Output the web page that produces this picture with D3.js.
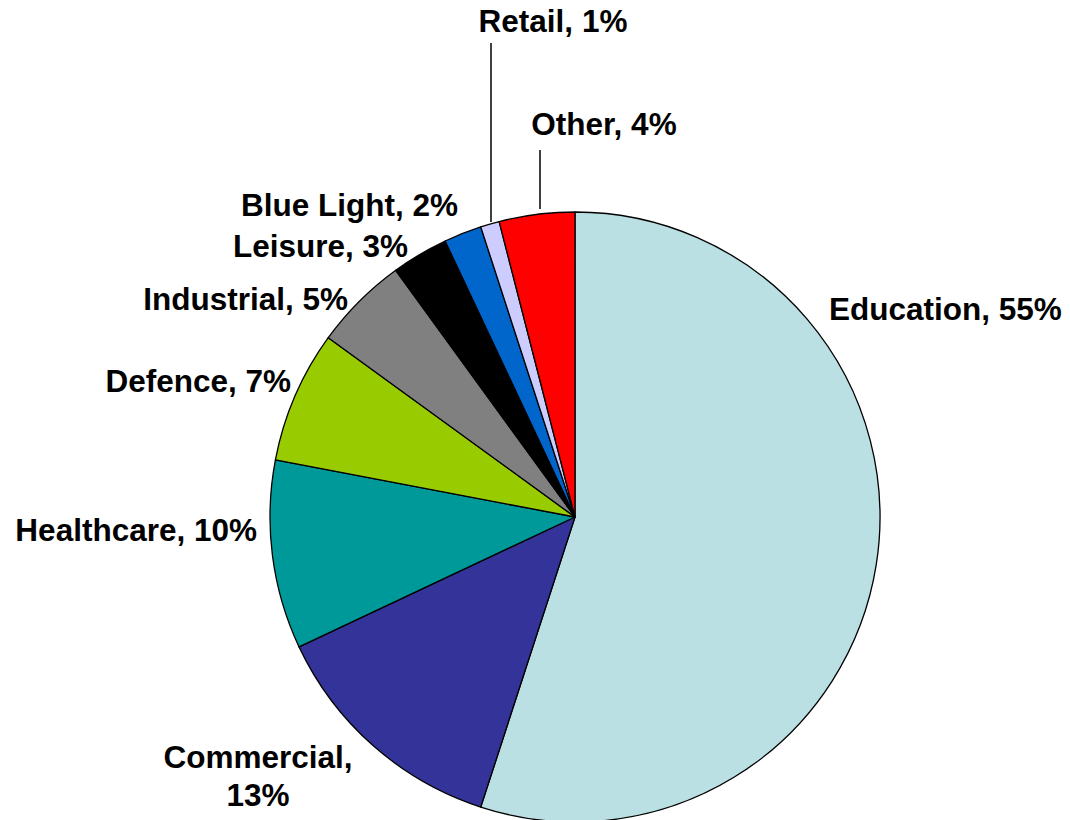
<!DOCTYPE html>
<html>
<head>
<meta charset="utf-8">
<script src="https://cdn.jsdelivr.net/npm/d3@7"></script>
<style>
  html, body { margin: 0; padding: 0; background: #fff; }
  svg text { font-family: "Liberation Sans", Arial, sans-serif; font-weight: bold; font-size: 31.5px; fill: #000; }
</style>
</head>
<body>
<svg id="chart" width="1070" height="820"></svg>
<script>
// Share of projects by sector, clockwise from 12 o'clock
const categories = ["Education", "Commercial", "Healthcare", "Defence", "Industrial", "Leisure", "Blue Light", "Retail", "Other"];
const shares = [55, 13, 10, 7, 5, 3, 2, 1, 4];
const colors = ["#BBE0E3", "#333399", "#009999", "#99CC00", "#808080", "#000000", "#0066CC", "#CCCCFF", "#FF0000"];

// Label placement: anchor point and text alignment for each sector label
const labelLayout = {
  "Education":  { x: 829, y: 320, anchor: "start" },
  "Commercial": { x: 258, y: 768, anchor: "middle", wrap: true },
  "Healthcare": { x: 257, y: 541, anchor: "end" },
  "Defence":    { x: 291, y: 392, anchor: "end" },
  "Industrial": { x: 348, y: 310, anchor: "end" },
  "Leisure":    { x: 408, y: 257, anchor: "end" },
  "Blue Light": { x: 458, y: 216, anchor: "end" },
  "Retail":     { x: 553, y: 32,  anchor: "middle", leader: { x: 491, y1: 43, y2: 222 } },
  "Other":      { x: 604, y: 135, anchor: "middle", leader: { x: 540, y1: 150, y2: 209 } }
};

const svg = d3.select("#chart");
const cx = 575, cy = 517, radius = 305;

const data = categories.map((c, i) => ({ name: c, value: shares[i], color: colors[i] }));

const pie = d3.pie().value(d => d.value).sort(null);
const arc = d3.arc().innerRadius(0).outerRadius(radius);

const g = svg.append("g").attr("transform", `translate(${cx},${cy})`);

g.selectAll("path")
  .data(pie(data))
  .join("path")
  .attr("d", arc)
  .attr("fill", d => d.data.color)
  .attr("stroke", "#000")
  .attr("stroke-width", 1.3)
  .attr("stroke-linejoin", "round");

// Leader lines for the narrow top slices
data.forEach(d => {
  const L = labelLayout[d.name];
  if (L.leader) {
    svg.append("line")
      .attr("x1", L.leader.x).attr("x2", L.leader.x)
      .attr("y1", L.leader.y1).attr("y2", L.leader.y2)
      .attr("stroke", "#000").attr("stroke-width", 1.5);
  }
});

data.forEach(d => {
  const L = labelLayout[d.name];
  const t = svg.append("text")
    .attr("x", L.x).attr("y", L.y)
    .attr("text-anchor", L.anchor);
  if (L.wrap) {
    t.append("tspan").attr("x", L.x).text(d.name + ",");
    t.append("tspan").attr("x", L.x).attr("dy", 38).text(d.value + "%");
  } else {
    t.text(`${d.name}, ${d.value}%`);
  }
});
</script>
</body>
</html>
